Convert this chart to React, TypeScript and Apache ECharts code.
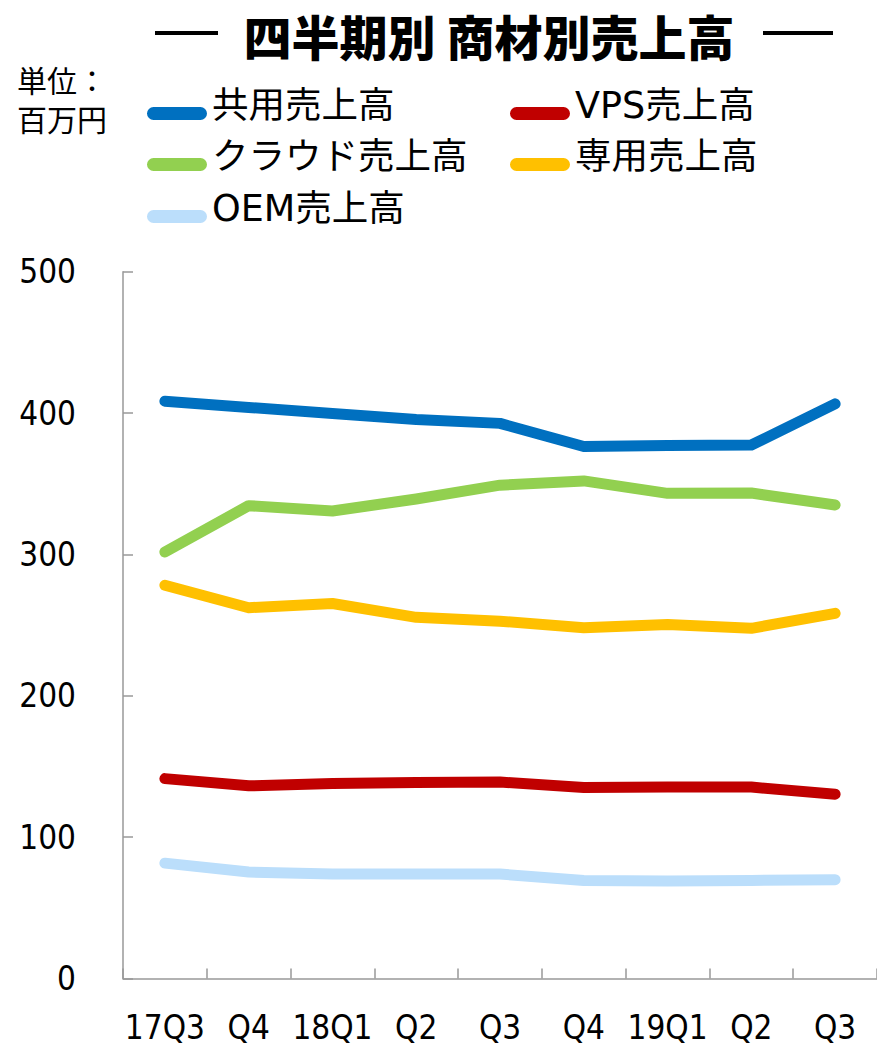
import React, { useEffect, useRef } from "react";
import * as echarts from "echarts";

const categories = ["17Q3", "Q4", "18Q1", "Q2", "Q3", "Q4", "19Q1", "Q2", "Q3"];
const sharedSales = [408.4, 404, 399.7, 395.5, 392.7, 376.3, 377, 377.4, 406.5];
const vpsSales = [141.4, 136.3, 137.9, 138.6, 139.0, 135.1, 135.4, 135.4, 130.4];
const cloudSales = [301.7, 334.5, 330.7, 339.2, 349, 352, 343.2, 343.4, 335];
const dedicatedSales = [278.2, 262.3, 265.3, 255.5, 252.8, 248.2, 250.5, 247.7, 258.3];
const oemSales = [81.6, 75.3, 73.9, 73.9, 73.9, 69.4, 69, 69.4, 69.9];
const yTicks = [0, 100, 200, 300, 400, 500];

const seriesDefs = [
  { name: "共用売上高", data: sharedSales, color: "#0070C0" },
  { name: "VPS売上高", data: vpsSales, color: "#C00000" },
  { name: "クラウド売上高", data: cloudSales, color: "#92D050" },
  { name: "専用売上高", data: dedicatedSales, color: "#FFC000" },
  { name: "OEM売上高", data: oemSales, color: "#BBDEFB" },
];

const legendPos = [
  { left: 147, top: 85 },
  { left: 510, top: 85 },
  { left: 147, top: 136 },
  { left: 510, top: 136 },
  { left: 147, top: 188 },
];

export default function App() {
  const ref = useRef<HTMLDivElement>(null);
  useEffect(() => {
    document.body.style.margin = "0";
    const chart = echarts.init(ref.current!, null, { renderer: "svg" });
    const pill = "path://M0,0 M6.5,17 H53.5 A6.5,6.5 0 0 1 53.5,30 H6.5 A6.5,6.5 0 0 1 6.5,17 Z";
    chart.setOption({
      animation: false,
      backgroundColor: "#ffffff",
      grid: { left: 123, top: 271.7, width: 758, height: 710.3, containLabel: false },
      legend: seriesDefs.map((s, i) => ({
        data: [s.name],
        left: legendPos[i].left,
        top: legendPos[i].top,
        icon: pill,
        itemWidth: 60,
        itemHeight: 30,
        padding: 0,
        selectedMode: false,
        textStyle: {
          fontSize: 36.5,
          lineHeight: 40,
          color: "#000",
          fontFamily: "DejaVu Sans, Noto Sans CJK JP",
        },
      })),
      graphic: [
        {
          type: "text",
          x: 489,
          y: 35,
          style: {
            text: "四半期別 商材別売上高",
            font: "900 48px 'Noto Sans CJK JP'",
            fill: "#000",
            textAlign: "center",
            textVerticalAlign: "middle",
          },
        },
        { type: "line", shape: { x1: 155, y1: 33, x2: 218, y2: 33 }, style: { stroke: "#000", lineWidth: 4 } },
        { type: "line", shape: { x1: 763, y1: 33, x2: 833, y2: 33 }, style: { stroke: "#000", lineWidth: 4 } },
        {
          type: "text",
          x: 17,
          y: 79,
          style: {
            text: "単位：",
            font: "30px 'Noto Sans CJK JP'",
            fill: "#000",
            textVerticalAlign: "middle",
          },
        },
        {
          type: "text",
          x: 17,
          y: 118,
          style: {
            text: "百万円",
            font: "30px 'Noto Sans CJK JP'",
            fill: "#000",
            textVerticalAlign: "middle",
          },
        },
      ],
      xAxis: {
        type: "category",
        data: categories,
        boundaryGap: true,
        axisLine: { show: true, lineStyle: { color: "#999", width: 1.5 } },
        axisTick: { show: true, inside: true, length: 10, lineStyle: { color: "#999", width: 1.5 } },
        axisLabel: {
          fontSize: 33,
          lineHeight: 24,
          fontFamily: "DejaVu Sans Condensed",
          color: "#000",
          margin: 37,
          interval: 0,
        },
        splitLine: { show: false },
      },
      yAxis: {
        type: "value",
        min: yTicks[0],
        max: yTicks[yTicks.length - 1],
        interval: 100,
        axisLine: { show: true, lineStyle: { color: "#999", width: 1.5 } },
        axisTick: { show: true, inside: true, length: 10, lineStyle: { color: "#999", width: 1.5 } },
        axisLabel: {
          fontSize: 33,
          fontFamily: "DejaVu Sans Condensed",
          color: "#000",
          margin: 47,
        },
        splitLine: { show: false },
      },
      series: seriesDefs.map((s) => ({
        name: s.name,
        type: "line",
        data: s.data,
        showSymbol: false,
        symbol: "none",
        color: s.color,
        lineStyle: { color: s.color, width: 11, cap: "round", join: "round" },
        emphasis: { disabled: true },
      })),
    });
    return () => chart.dispose();
  }, []);
  return <div ref={ref} style={{ width: 877, height: 1044 }} />;
}
